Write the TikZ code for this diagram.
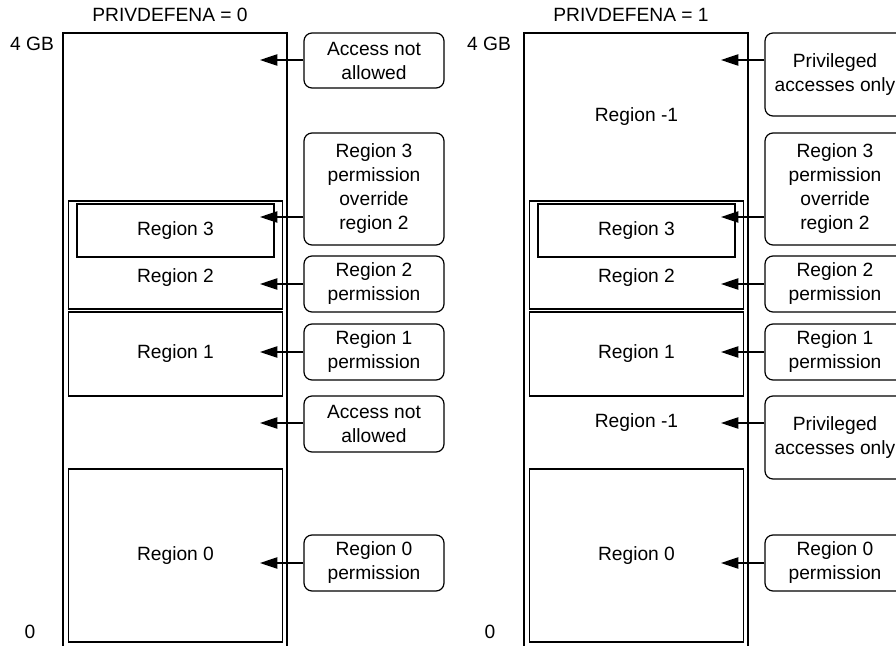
\documentclass[tikz,border=0pt]{standalone}
\usepackage{fontspec}
\setmainfont{Liberation Sans}
\usetikzlibrary{positioning, calc, arrows.meta}

\tikzset{
    membox/.style={draw, line width=0.9pt, inner sep=0pt, minimum width=160pt},
    permbox/.style={draw, line width=0.9pt, rounded corners=6pt, align=center,
        inner sep=0pt, minimum width=105pt, minimum height=42pt},
    permarrow/.style={line width=0.9pt, -{Triangle[length=13pt,width=8.5pt]}},
}

\begin{document}
\begin{tikzpicture}[x=0.75pt, y=-0.75pt, font=\fontsize{14.4}{18}\selectfont]

        \useasboundingbox (0,0) rectangle (896,646);
        \clip (0,0) rectangle (896,646);

        % ==========================================
        % Left panel: PRIVDEFENA = 0
        % ==========================================
        \node (titleL) at (170,15) {PRIVDEFENA = 0};
        \node (topL) at (32,44) {4 GB};
        \node (botL) at (30,632) {0};
        \draw[line width=0.9pt] (63,660) coordinate (mapLbl) -- (63,33) -- (287,33) -- (287,660) coordinate (mapLbr);

        % Regions in the memory map
        \node[membox, minimum height=81pt] (grpL) at (175.5,255) {};
        \node[membox, minimum width=147.75pt, minimum height=39.75pt] (reg3L) at (175.5,230.5) {Region 3};
        \node (reg2L) at (175.5,278) {Region 2};
        \node[membox, minimum height=63pt] (reg1L) at (175.5,354) {Region 1};
        \node[membox, minimum height=129.75pt] (reg0L) at (175.5,555.5) {Region 0};

        % Permission callouts
        \node[permbox, minimum height=41.25pt] (aL1) at (374,60.5) {Access not\\allowed};
        \node[permbox, minimum height=84pt] (aL2) at (374,189) {Region 3\\permission\\override\\region 2};
        \node[permbox] (aL3) at (374,284) {Region 2\\permission};
        \node[permbox] (aL4) at (374,352) {Region 1\\permission};
        \node[permbox] (aL5) at (374,424) {Access not\\allowed};
        \node[permbox] (aL6) at (374,563) {Region 0\\permission};

        \coordinate (tL1) at (260,60);
        \coordinate (tL2) at (260,217);
        \coordinate (tL3) at (260,284);
        \coordinate (tL4) at (260,352);
        \coordinate (tL5) at (260,423);
        \coordinate (tL6) at (260,563);
        \draw[permarrow] (aL1.west |- tL1) -- (tL1);
        \draw[permarrow] (aL2.west |- tL2) -- (tL2);
        \draw[permarrow] (aL3.west |- tL3) -- (tL3);
        \draw[permarrow] (aL4.west |- tL4) -- (tL4);
        \draw[permarrow] (aL5.west |- tL5) -- (tL5);
        \draw[permarrow] (aL6.west |- tL6) -- (tL6);

        % ==========================================
        % Right panel: PRIVDEFENA = 1
        % ==========================================
        \begin{scope}[shift={(461,0)}]
        \node (titleR) at (170,15) {PRIVDEFENA = 1};
        \node (topR) at (28,44) {4 GB};
        \node (botR) at (29,632) {0};
        \draw[line width=0.9pt] (63,660) coordinate (mapRbl) -- (63,33) -- (287,33) -- (287,660) coordinate (mapRbr);

        % Regions in the memory map
        \node (bgR1) at (175.5,117) {Region -1};
        \node[membox, minimum height=81pt] (grpR) at (175.5,255) {};
        \node[membox, minimum width=147.75pt, minimum height=39.75pt] (reg3R) at (175.5,230.5) {Region 3};
        \node (reg2R) at (175.5,278) {Region 2};
        \node[membox, minimum height=63pt] (reg1R) at (175.5,354) {Region 1};
        \node (bgR2) at (175.5,423) {Region -1};
        \node[membox, minimum height=129.75pt] (reg0R) at (175.5,555.5) {Region 0};

        % Permission callouts
        \node[permbox, minimum height=62.25pt] (aR1) at (374,74.5) {Privileged\\accesses only};
        \node[permbox, minimum height=84pt] (aR2) at (374,189) {Region 3\\permission\\override\\region 2};
        \node[permbox] (aR3) at (374,284) {Region 2\\permission};
        \node[permbox] (aR4) at (374,352) {Region 1\\permission};
        \node[permbox, minimum height=62.25pt] (aR5) at (374,437.5) {Privileged\\accesses only};
        \node[permbox] (aR6) at (374,563) {Region 0\\permission};

        \coordinate (tR1) at (260,60);
        \coordinate (tR2) at (260,217);
        \coordinate (tR3) at (260,284);
        \coordinate (tR4) at (260,352);
        \coordinate (tR5) at (260,423);
        \coordinate (tR6) at (260,563);
        \draw[permarrow] (aR1.west |- tR1) -- (tR1);
        \draw[permarrow] (aR2.west |- tR2) -- (tR2);
        \draw[permarrow] (aR3.west |- tR3) -- (tR3);
        \draw[permarrow] (aR4.west |- tR4) -- (tR4);
        \draw[permarrow] (aR5.west |- tR5) -- (tR5);
        \draw[permarrow] (aR6.west |- tR6) -- (tR6);
        \end{scope}

\end{tikzpicture}
\end{document}
